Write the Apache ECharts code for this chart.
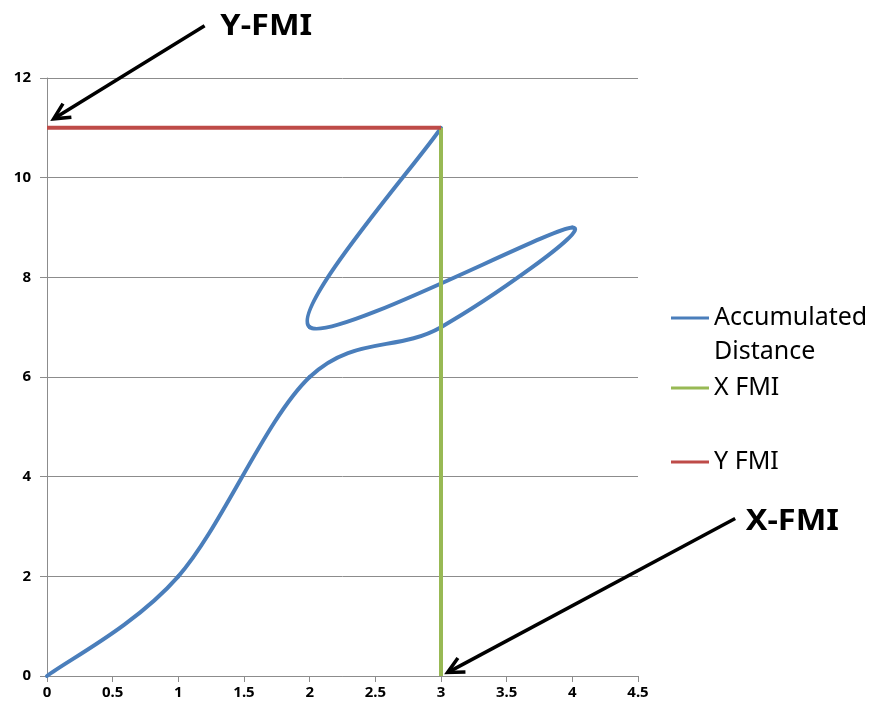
<!DOCTYPE html>
<html>
<head>
<meta charset="utf-8">
<script src="https://cdn.jsdelivr.net/npm/echarts@6/dist/echarts.min.js"></script>
<style>
  html, body { margin: 0; padding: 0; background: #fff; }
  #chart { width: 870px; height: 709px; }
</style>
</head>
<body>
<div id="chart"></div>
<script>
// Accumulated distance path (x, y pairs in drawing order)
const distanceX = [0, 1, 2, 3, 4, 2, 3];
const distanceY = [0, 2, 6, 7, 9, 7, 11];

// First-move indices
const xFmiX = [3, 3];
const xFmiY = [0, 11];
const yFmiX = [0, 3];
const yFmiY = [11, 11];

// Axis tick settings
const xTicks = { min: 0, max: 4.5, interval: 0.5 };
const yTicks = { min: 0, max: 12, interval: 2 };

// Callouts, positioned in data coordinates
const callouts = [
  { label: 'Y-FMI', text: [1.32, 13.02], tail: [1.2, 13.05], tip: [0.05, 11.18] },
  { label: 'X-FMI', text: [5.32, 3.09], tail: [5.24, 3.16], tip: [3.05, 0.07] }
];

const pairs = (xs, ys) => xs.map((x, i) => [x, ys[i]]);

const FONT = '"Noto Sans", "Liberation Sans", sans-serif';
const BLUE = '#4a7ebb', GREEN = '#98b954', RED = '#be4b48';

const chart = echarts.init(document.getElementById('chart'), null, { renderer: 'canvas' });

// Smoothed scatter segment: cubic Bezier from point i to i+1 with
// Catmull-Rom style control points, computed in pixel space.
function renderSmoothSegment(params, api) {
  const i = params.dataIndex;
  const n = distanceX.length;
  if (i >= n - 1) return null;
  const P = (k) => {
    const j = Math.max(0, Math.min(n - 1, k));
    return api.coord([distanceX[j], distanceY[j]]);
  };
  const p0 = P(i - 1), p1 = P(i), p2 = P(i + 1), p3 = P(i + 2);
  const t = 1 / 6;
  return {
    type: 'bezierCurve',
    shape: {
      x1: p1[0], y1: p1[1],
      cpx1: p1[0] + (p2[0] - p0[0]) * t, cpy1: p1[1] + (p2[1] - p0[1]) * t,
      cpx2: p2[0] - (p3[0] - p1[0]) * t, cpy2: p2[1] - (p3[1] - p1[1]) * t,
      x2: p2[0], y2: p2[1]
    },
    style: { stroke: BLUE, lineWidth: 4, fill: null, lineCap: 'round' }
  };
}

const legendText = { fontFamily: FONT, fontSize: 25, color: '#000', lineHeight: 34 };
const legendBase = {
  orient: 'vertical', left: 671, padding: 0, itemWidth: 38, itemHeight: 3,
  selectedMode: false, textStyle: legendText
};

chart.setOption({
  animation: false,
  backgroundColor: '#fff',
  grid: { left: 47, right: 232, top: 78, bottom: 33, containLabel: false },
  xAxis: {
    type: 'value', min: xTicks.min, max: xTicks.max, interval: xTicks.interval,
    axisLine: { show: true, lineStyle: { color: '#8c8c8c', width: 1 } },
    axisTick: { show: true, length: 6, lineStyle: { color: '#8c8c8c' } },
    splitLine: { show: false },
    axisLabel: { fontFamily: FONT, fontWeight: 'bold', fontSize: 15, color: '#000', margin: 9 }
  },
  yAxis: {
    type: 'value', min: yTicks.min, max: yTicks.max, interval: yTicks.interval,
    axisLine: { show: true, lineStyle: { color: '#8c8c8c', width: 1 } },
    axisTick: { show: true, length: 7, lineStyle: { color: '#8c8c8c' } },
    splitLine: { show: true, lineStyle: { color: '#8c8c8c', width: 1 } },
    axisLabel: { fontFamily: FONT, fontWeight: 'bold', fontSize: 15, color: '#000', margin: 16 }
  },
  legend: [
    Object.assign({}, legendBase, {
      top: 267, data: [{ name: 'Accumulated Distance', icon: 'rect' }],
      formatter: () => ' \nAccumulated\nDistance'
    }),
    Object.assign({}, legendBase, { top: 371, data: [{ name: 'X FMI', icon: 'rect' }] }),
    Object.assign({}, legendBase, { top: 445, data: [{ name: 'Y FMI', icon: 'rect' }] })
  ],
  series: [
    {
      name: 'Accumulated Distance', type: 'custom', data: pairs(distanceX, distanceY),
      encode: { x: 0, y: 1 }, renderItem: renderSmoothSegment,
      itemStyle: { color: BLUE }
    },
    {
      name: 'X FMI', type: 'line', data: pairs(xFmiX, xFmiY),
      symbol: 'none', clip: false,
      lineStyle: { color: GREEN, width: 4 }, itemStyle: { color: GREEN }
    },
    {
      name: 'Y FMI', type: 'line', data: pairs(yFmiX, yFmiY),
      symbol: 'none', clip: false,
      lineStyle: { color: RED, width: 4 }, itemStyle: { color: RED }
    }
  ]
});

// Draw callout arrows and labels from their data coordinates
function drawCallouts() {
  const toPx = (p) => chart.convertToPixel({ gridIndex: 0 }, p);
  const elements = [];
  callouts.forEach((c) => {
    const tail = toPx(c.tail), tip = toPx(c.tip), t = toPx(c.text);
    const dx = tip[0] - tail[0], dy = tip[1] - tail[1];
    const len = Math.hypot(dx, dy);
    const ux = dx / len, uy = dy / len, nx = -uy, ny = ux;
    const head = 16, half = 8;
    elements.push({
      type: 'line', silent: true,
      shape: { x1: tail[0], y1: tail[1], x2: tip[0] - ux * 3, y2: tip[1] - uy * 3 },
      style: { stroke: '#000', lineWidth: 3.5 }
    });
    elements.push({
      type: 'polyline', silent: true,
      shape: { points: [
        [tip[0] - ux * head + nx * half, tip[1] - uy * head + ny * half],
        [tip[0], tip[1]],
        [tip[0] - ux * head - nx * half, tip[1] - uy * head - ny * half]
      ] },
      style: { stroke: '#000', lineWidth: 3.5, lineJoin: 'miter', fill: null }
    });
    elements.push({
      type: 'text', silent: true, x: t[0], y: t[1], scaleX: 1.12,
      style: {
        text: c.label, fill: '#000', font: 'bold 29px ' + FONT,
        textAlign: 'left', textVerticalAlign: 'middle'
      }
    });
  });
  chart.setOption({ graphic: { elements: elements } });
}
drawCallouts();
</script>
</body>
</html>
